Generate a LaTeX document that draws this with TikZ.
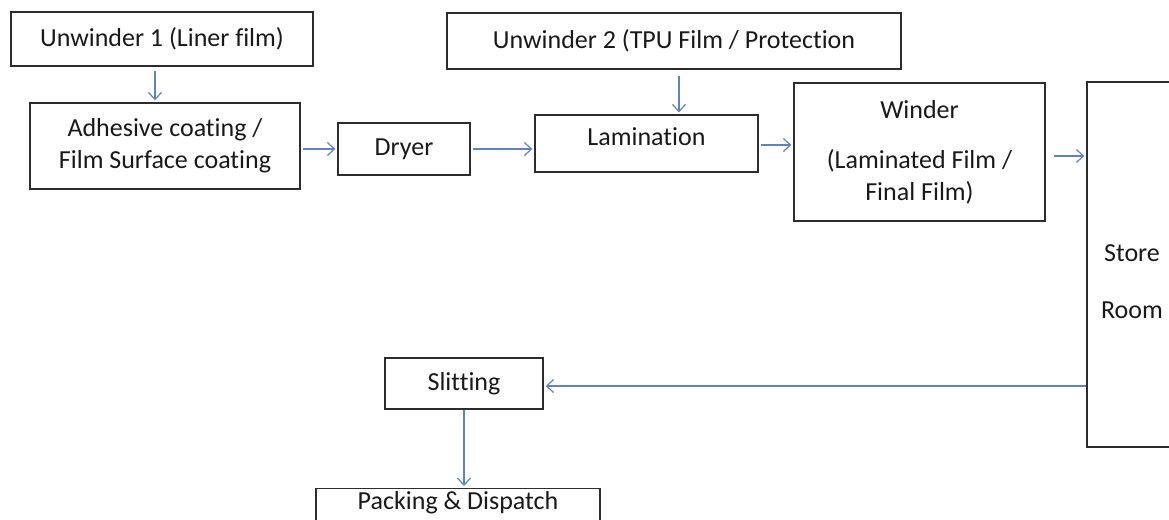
\documentclass[tikz,border=0pt]{standalone}
\usepackage{fontspec}
\setmainfont{Carlito}[Ligatures={NoCommon}]
\usetikzlibrary{arrows.meta,calc}
\definecolor{flowblue}{RGB}{96,130,190}
\definecolor{boxline}{RGB}{45,45,45}
\begin{document}
\begin{tikzpicture}[x=1pt, y=-1pt,
    box/.style={draw=boxline, line width=1.4pt, inner sep=2pt, align=center,
      text=black!90, font=\fontsize{26pt}{32pt}\selectfont},
    flow/.style={draw=flowblue, line width=1.2pt, -{Straight Barb[length=7pt, width=13pt]},
      shorten >=2pt}]
    \useasboundingbox (0, 0) rectangle (1169, 519);
    \clip (0, 0) rectangle (1169, 519);
    \node[box, minimum width=302, minimum height=54] (u1) at (162, 39) {Unwinder 1 (Liner film)};
    \node[box, minimum width=270, minimum height=86] (coat) at (165, 146) {Adhesive coating /\\Film Surface coating};
    \node[box, minimum width=132, minimum height=52] (dryer) at (404, 149) {Dryer};
    \node[box, minimum width=223, minimum height=57, text depth=14pt] (lam) at (646.5, 143.5) {Lamination};
    \node[box, minimum width=454, minimum height=56] (u2) at (674, 41) {Unwinder 2 (TPU Film / Protection};
    \node[box, minimum width=251, minimum height=138] (winder) at (919.5, 152) {Winder\\[18pt](Laminated Film /\\Final Film)};
    \node[box, minimum width=140, minimum height=365] (store) at (1157, 264.5) {};
    \node[box, draw=none] (storetxt) at (1132, 281.5) {Store\\[25pt]Room};
    \node[box, minimum width=158, minimum height=51] (slit) at (464, 383.5) {Slitting};
    \node[box, anchor=north, minimum width=284, text depth=30pt, inner ysep=3pt] (pack) at (458, 488) {Packing \& Dispatch};
    \draw[flow, shorten <=4pt] ([xshift=-7pt]u1.south) -- ([xshift=-7pt]u1.south |- coat.north);
    \draw[flow, shorten <=2pt] (coat.east |- dryer) -- (dryer.west);
    \draw[flow, shorten <=2pt] (dryer.east) -- (dryer.east -| lam.west);
    \draw[flow, shorten <=6pt] ([xshift=5pt]u2.south) -- ([xshift=5pt]u2.south |- lam.north);
    \draw[flow, shorten <=2pt] ([yshift=-1.5pt]lam.east) -- ([yshift=-1.5pt]lam.east -| winder.west);
    \draw[flow, shorten <=8pt] ([yshift=-4pt]winder.east) -- ([yshift=-4pt]winder.east -| store.west);
    \draw[flow] ([yshift=-2.5pt]slit.east -| store.west) -- ([yshift=-2.5pt]slit.east);
    \draw[flow] (slit.south) -- (slit.south |- pack.north);
  \end{tikzpicture}
\end{document}
